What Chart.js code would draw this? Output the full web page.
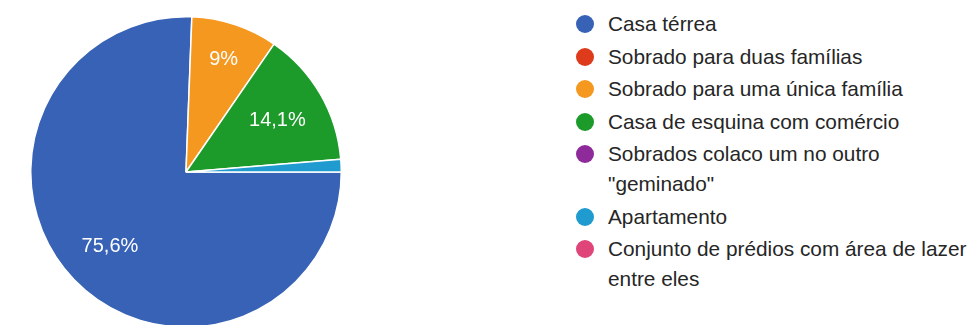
<!DOCTYPE html>
<html>
<head>
<meta charset="utf-8">
<script src="https://cdn.jsdelivr.net/npm/chart.js@4"></script>
<style>
    html, body { margin: 0; padding: 0; background: #fff; overflow: hidden; }
    body { width: 972px; height: 325px; position: relative; font-family: "Liberation Sans", Arial, sans-serif; }
    #pieBox { position: absolute; left: 30px; top: 16px; width: 312px; height: 312px; }
    #legend { position: absolute; left: 576px; top: 9px; margin: 0; padding: 0; list-style: none; font-size: 20.8px; color: #262626; }
    #legend li { position: relative; padding-left: 32px; line-height: 30px; margin-bottom: 2.5px; white-space: nowrap; }
    #legend .dot { position: absolute; left: 0; top: 6px; width: 18px; height: 18px; border-radius: 50%; }
</style>
</head>
<body>
<div id="pieBox"><canvas id="pieChart"></canvas></div>
<ul id="legend"></ul>
<script>
document.addEventListener('DOMContentLoaded', function () {

    var categories = [
        'Casa térrea',
        'Sobrado para duas famílias',
        'Sobrado para uma única família',
        'Casa de esquina com comércio',
        ['Sobrados colaco um no outro', '"geminado"'],
        'Apartamento',
        ['Conjunto de prédios com área de lazer', 'entre eles']
    ];
    var percentages = [75.6, 0, 9, 14.1, 0, 1.3, 0];
    var colors = ['#3762b6', '#de3b1c', '#f5981f', '#1c9a2a', '#8e2a99', '#1f9bd0', '#e0457a'];

    // white percent text inside the bigger slices
    var sliceLabels = {
        id: 'sliceLabels',
        afterDatasetsDraw: function (chart) {
            var ctx = chart.ctx;
            var meta = chart.getDatasetMeta(0);
            ctx.save();
            ctx.font = '20px "Liberation Sans", Arial, sans-serif';
            ctx.fillStyle = '#fff';
            ctx.textAlign = 'center';
            ctx.textBaseline = 'middle';
            meta.data.forEach(function (arc, i) {
                var v = percentages[i];
                if (v < 5) return;
                var p = arc.getProps(['x', 'y', 'startAngle', 'endAngle', 'outerRadius'], true);
                var mid = (p.startAngle + p.endAngle) / 2;
                var r = p.outerRadius * (v < 10 ? 0.77 : 0.68);
                ctx.fillText(String(v).replace('.', ',') + '%', p.x + Math.cos(mid) * r, p.y + Math.sin(mid) * r + 1);
            });
            ctx.restore();
        }
    };

    var chart = new Chart(document.getElementById('pieChart'), {
        type: 'pie',
        data: {
            labels: categories,
            datasets: [{
                data: percentages,
                backgroundColor: colors,
                borderColor: '#fff',
                borderWidth: 1.5
            }]
        },
        options: {
            responsive: true,
            maintainAspectRatio: false,
            animation: false,
            rotation: 90,
            layout: { padding: 0 },
            plugins: {
                legend: { display: false },
                tooltip: { enabled: false }
            }
        },
        plugins: [sliceLabels]
    });

    // legend on the right, built from the chart's own legend items
    var items = Chart.overrides.pie.plugins.legend.labels.generateLabels(chart);
    var list = document.getElementById('legend');
    items.forEach(function (item) {
        var li = document.createElement('li');
        var dot = document.createElement('span');
        dot.className = 'dot';
        dot.style.background = item.fillStyle;
        li.appendChild(dot);
        var lines = Array.isArray(item.text) ? item.text : [item.text];
        lines.forEach(function (line, k) {
            if (k > 0) li.appendChild(document.createElement('br'));
            li.appendChild(document.createTextNode(line));
        });
        list.appendChild(li);
    });
});
</script>
</body>
</html>
